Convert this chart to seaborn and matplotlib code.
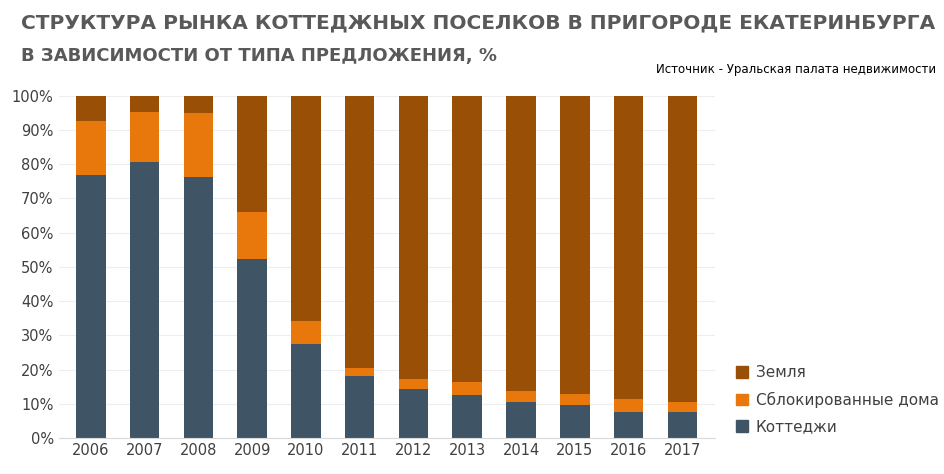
import matplotlib
matplotlib.use("Agg")
import matplotlib.pyplot as plt
import seaborn as sns
import pandas as pd
import numpy as np

years = ["2006","2007","2008","2009","2010","2011","2012","2013","2014","2015","2016","2017"]
cottages = [76.9, 80.7, 76.3, 52.3, 27.5, 18.1, 14.3, 12.6, 10.5, 9.6, 7.6, 7.6]
blocked = [15.8, 14.6, 18.7, 13.7, 6.7, 2.4, 3.0, 3.8, 3.2, 3.3, 3.8, 2.9]
land = [100 - c - b for c, b in zip(cottages, blocked)]

series_names = ["Коттеджи", "Сблокированные дома", "Земля"]
colors = ["#3f5566", "#e8780c", "#9a4f07"]

plt.rcParams["font.family"] = "Roboto"
sns.set_style("white")
fig = plt.figure(figsize=(9.44, 4.74), dpi=100)
ax = fig.add_axes([0.062, 0.076, 0.695, 0.722])

df = pd.DataFrame({"year": years, "Коттеджи": cottages,
                   "Сблокированные дома": blocked, "Земля": land})
bottom = np.zeros(len(years))
handles = []
for name, col in zip(series_names, colors):
    sns.barplot(data=df, x="year", y=name, color=col, bottom=bottom, ax=ax,
                width=0.55, saturation=1, linewidth=0)
    bottom = bottom + df[name].values
    handles.append(plt.Rectangle((0, 0), 1, 1, color=col))

ax.set_ylim(0, 100)
ax.set_xlim(-0.6, 11.6)
ax.set_yticks(range(0, 101, 10))
ax.set_yticklabels([f"{v}%" for v in range(0, 101, 10)], fontsize=10.5, color="#404040")
ax.set_xticks(range(len(years)))
ax.set_xticklabels(years, fontsize=10.5, color="#404040")
ax.set_xlabel(""); ax.set_ylabel("")
ax.grid(axis="y", color="#eeeeee", lw=0.8)
ax.set_axisbelow(True)
for s in ["top", "right", "left"]:
    ax.spines[s].set_visible(False)
ax.spines["bottom"].set_color("#d9d9d9")
ax.tick_params(length=0)

fig.legend(handles[::-1], series_names[::-1], loc="lower left",
           bbox_to_anchor=(0.765, 0.055), frameon=False, fontsize=11,
           handlelength=0.8, handleheight=0.8, handletextpad=0.5,
           labelspacing=0.75, labelcolor="#404040")

fig.text(0.022, 0.94, "СТРУКТУРА РЫНКА КОТТЕДЖНЫХ ПОСЕЛКОВ В ПРИГОРОДЕ ЕКАТЕРИНБУРГА",
         fontsize=14.5, fontweight="bold", color="#595959")
fig.text(0.022, 0.872, "В ЗАВИСИМОСТИ ОТ ТИПА ПРЕДЛОЖЕНИЯ, %",
         fontsize=13, fontweight="bold", color="#595959")
fig.text(0.992, 0.845, "Источник - Уральская палата недвижимости",
         fontsize=8.5, color="black", ha="right")

fig.savefig("out.png", dpi=100)
